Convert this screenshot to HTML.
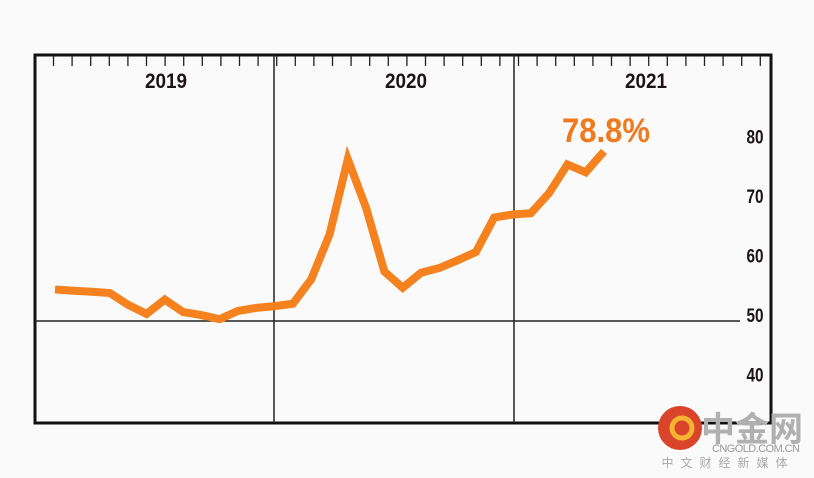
<!DOCTYPE html>
<html><head><meta charset="utf-8"><style>
html,body{margin:0;padding:0;background:#fafafa;}
svg{display:block;}
.n{font-family:"Liberation Sans Narrow","Liberation Sans",sans-serif;font-weight:bold;}
</style></head><body>
<svg id="chart" width="814" height="478" viewBox="0 0 814 478" xmlns="http://www.w3.org/2000/svg">
<rect x="0" y="0" width="814" height="478" fill="#fafafa"/>
<g id="ticks"></g>
<rect x="35" y="55" width="736" height="368" fill="none" stroke="#111" stroke-width="3"/>
<line x1="274" y1="55" x2="274" y2="423" stroke="#222" stroke-width="1.5"/>
<line x1="514" y1="55" x2="514" y2="423" stroke="#222" stroke-width="1.5"/>
<g id="years"></g>
<g id="yaxis"></g>
<line id="ref50" x1="35" y1="321" x2="740" y2="321" stroke="#222" stroke-width="1.5"/>
<path id="series" fill="none" stroke="#f5821f" stroke-width="8" stroke-linejoin="miter" stroke-linecap="butt"/>
<text id="lastlabel" class="n" x="606" y="142" text-anchor="middle" font-size="34" fill="#f07a1e" font-weight="normal" textLength="88" lengthAdjust="spacingAndGlyphs">78.8%</text>
<g>
<circle cx="680" cy="428" r="22" fill="#d9442a"/>
<circle cx="682" cy="428" r="10" fill="none" stroke="#f6b233" stroke-width="5"/>
<text x="752" y="441" text-anchor="middle" font-family="'Liberation Sans','Noto Sans CJK SC',sans-serif" font-size="34" font-weight="bold" fill="#b0b0b0">中金网</text>
<text x="756" y="452" text-anchor="middle" font-family="'Liberation Sans',sans-serif" font-size="11" fill="#999" textLength="88">CNGOLD.COM.CN</text>
<text x="728" y="467" text-anchor="middle" font-family="'Liberation Sans','Noto Sans CJK SC',sans-serif" font-size="12" fill="#aaa" letter-spacing="7">中文财经新媒体</text>
</g>
</svg>
<script>
const years = ["2019","2020","2021"];
const yTicks = [40,50,60,70,80];
const values = [55.3,55.1,54.9,54.7,52.7,51.2,53.6,51.5,51.0,50.3,51.7,52.2,52.5,52.9,57.0,64.5,77.2,69.0,58.3,55.6,58.1,58.9,60.2,61.6,67.4,67.9,68.1,71.5,76.3,75.0,78.5];
const NS="http://www.w3.org/2000/svg";
const xScale = i => 55 + i*18.3;
const yScale = v => 321 - (v-50)*5.95;
const yearX = i => 35 + 240*i + 131;
const tg=document.getElementById('ticks');
for(let k=0;k<39;k++){
  const x=53.5+k*18.6;
  if(x>762) break;
  const l=document.createElementNS(NS,'line');
  l.setAttribute('x1',x);l.setAttribute('x2',x);l.setAttribute('y1',55);l.setAttribute('y2',66);
  l.setAttribute('stroke','#222');l.setAttribute('stroke-width','1.3');
  
  
  tg.appendChild(l);
}
const yg=document.getElementById('years');
years.forEach((y,i)=>{
  const t=document.createElementNS(NS,'text');
  t.setAttribute('x',yearX(i));t.setAttribute('y',88);t.setAttribute('text-anchor','middle');
  t.setAttribute('class','n');t.setAttribute('font-size','21');t.setAttribute('fill','#1a1416');
  t.setAttribute('textLength','42');t.setAttribute('lengthAdjust','spacingAndGlyphs');
  t.textContent=y;
  
  
  yg.appendChild(t);
});
const ya=document.getElementById('yaxis');
yTicks.forEach(v=>{
  const t=document.createElementNS(NS,'text');
  t.setAttribute('x',755);t.setAttribute('y',yScale(v)+1);t.setAttribute('text-anchor','middle');
  t.setAttribute('class','n');t.setAttribute('font-size','19');t.setAttribute('fill','#1a1416');
  t.setAttribute('textLength','17');t.setAttribute('lengthAdjust','spacingAndGlyphs');
  t.textContent=v;
  
  
  ya.appendChild(t);
});
document.getElementById('ref50').setAttribute('y1',yScale(50));
document.getElementById('ref50').setAttribute('y2',yScale(50));
document.getElementById('series').setAttribute('d',values.map((v,i)=>(i?'L':'M')+xScale(i).toFixed(1)+' '+yScale(v).toFixed(1)).join(' '));
</script>
</body></html>
